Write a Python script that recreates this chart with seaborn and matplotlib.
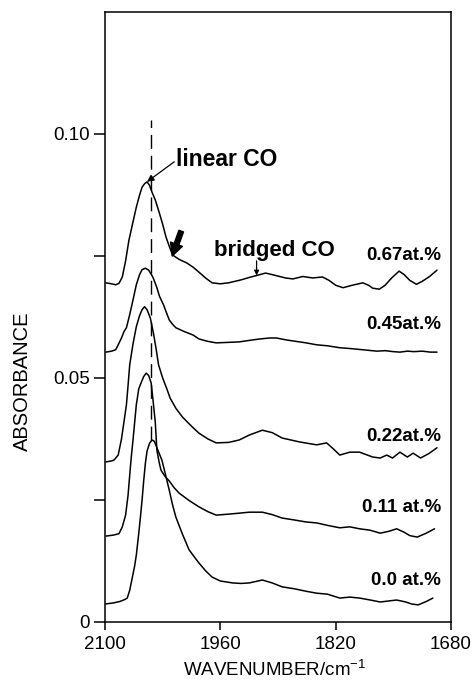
import matplotlib
matplotlib.use("Agg")
import matplotlib.pyplot as plt
import pandas as pd
import seaborn as sns

# IR spectra of adsorbed CO for several dopant loadings (absorbance vs wavenumber)
sample_labels = ["0.67at.%", "0.45at.%", "0.22at.%", "0.11 at.%", "0.0 at.%"]

wn_067 = [2099, 2092, 2087, 2083, 2079, 2075, 2071, 2066, 2062, 2058, 2055, 2052, 2049,
          2046, 2043, 2039, 2034, 2030, 2026, 2022, 2018, 2010, 2001, 1993, 1986, 1978,
          1970, 1960, 1950, 1945, 1935, 1925, 1916, 1905, 1895, 1881, 1872, 1860, 1848,
          1836, 1828, 1820, 1811, 1800, 1787, 1780, 1775, 1767, 1760, 1752, 1743, 1737,
          1730, 1722, 1715, 1706, 1697]
ab_067 = [0.0695, 0.0693, 0.0691, 0.0694, 0.0707, 0.0740, 0.0782, 0.0820, 0.0850, 0.0875,
          0.0891, 0.0898, 0.0902, 0.0895, 0.0881, 0.0865, 0.0838, 0.0815, 0.0789, 0.0770,
          0.0752, 0.0743, 0.0736, 0.0727, 0.0717, 0.0705, 0.0695, 0.0693, 0.0695, 0.0697,
          0.0701, 0.0706, 0.0710, 0.0715, 0.0711, 0.0705, 0.0703, 0.0708, 0.0705, 0.0707,
          0.0700, 0.0690, 0.0685, 0.0690, 0.0695, 0.0690, 0.0684, 0.0682, 0.0690, 0.0705,
          0.0719, 0.0712, 0.0700, 0.0692, 0.0698, 0.0708, 0.0721]

wn_045 = [2099, 2092, 2087, 2084, 2080, 2077, 2074, 2070, 2066, 2062, 2058, 2055, 2051,
          2047, 2043, 2041, 2037, 2034, 2029, 2025, 2022, 2018, 2014, 2005, 1993, 1986,
          1975, 1965, 1950, 1937, 1925, 1912, 1900, 1892, 1880, 1868, 1856, 1843, 1830,
          1815, 1800, 1782, 1770, 1760, 1750, 1742, 1733, 1725, 1715, 1705, 1697]
ab_045 = [0.0553, 0.0555, 0.0558, 0.0568, 0.0582, 0.0595, 0.0603, 0.0630, 0.0660, 0.0691,
          0.0712, 0.0722, 0.0725, 0.0721, 0.0710, 0.0703, 0.0685, 0.0668, 0.0650, 0.0632,
          0.0619, 0.0610, 0.0603, 0.0596, 0.0588, 0.0580, 0.0575, 0.0572, 0.0573, 0.0574,
          0.0577, 0.0580, 0.0582, 0.0582, 0.0578, 0.0575, 0.0572, 0.0568, 0.0566, 0.0562,
          0.0560, 0.0557, 0.0555, 0.0556, 0.0554, 0.0553, 0.0555, 0.0554, 0.0555, 0.0553,
          0.0553]

wn_022 = [2099, 2092, 2089, 2084, 2080, 2077, 2074, 2072, 2070, 2066, 2062, 2058, 2055,
          2052, 2049, 2045, 2041, 2038, 2035, 2030, 2025, 2021, 2014, 2006, 1999, 1993,
          1986, 1975, 1965, 1950, 1937, 1925, 1909, 1897, 1885, 1864, 1843, 1831, 1823,
          1815, 1803, 1791, 1775, 1766, 1758, 1751, 1742, 1733, 1726, 1717, 1707, 1697]
ab_022 = [0.0328, 0.0330, 0.0332, 0.0342, 0.0375, 0.0410, 0.0445, 0.0485, 0.0527, 0.0570,
          0.0605, 0.0628, 0.0640, 0.0646, 0.0640, 0.0623, 0.0590, 0.0560, 0.0527, 0.0500,
          0.0478, 0.0459, 0.0438, 0.0420, 0.0408, 0.0398, 0.0387, 0.0375, 0.0367, 0.0368,
          0.0373, 0.0383, 0.0393, 0.0388, 0.0377, 0.0369, 0.0363, 0.0367, 0.0355, 0.0342,
          0.0348, 0.0348, 0.0338, 0.0336, 0.0342, 0.0336, 0.0348, 0.0338, 0.0346, 0.0336,
          0.0345, 0.0357]

wn_011 = [2099, 2090, 2083, 2079, 2075, 2072, 2070, 2068, 2066, 2062, 2059, 2056, 2053,
          2050, 2047, 2044, 2042, 2039, 2037, 2034, 2032, 2027, 2022, 2016, 2010, 1998,
          1986, 1975, 1965, 1950, 1937, 1925, 1909, 1897, 1885, 1870, 1856, 1843, 1830,
          1815, 1803, 1791, 1778, 1766, 1755, 1746, 1737, 1730, 1721, 1710, 1700]
ab_011 = [0.0176, 0.0178, 0.0181, 0.0195, 0.0219, 0.0260, 0.0301, 0.0340, 0.0373, 0.0445,
          0.0478, 0.0491, 0.0503, 0.0510, 0.0505, 0.0490, 0.0459, 0.0410, 0.0352, 0.0325,
          0.0311, 0.0298, 0.0289, 0.0275, 0.0264, 0.0249, 0.0236, 0.0226, 0.0219, 0.0221,
          0.0223, 0.0225, 0.0225, 0.0220, 0.0213, 0.0209, 0.0205, 0.0203, 0.0198, 0.0193,
          0.0195, 0.0191, 0.0188, 0.0182, 0.0186, 0.0191, 0.0184, 0.0177, 0.0174, 0.0182,
          0.0191]

wn_000 = [2099, 2090, 2082, 2076, 2073, 2070, 2067, 2064, 2062, 2059, 2057, 2055, 2053,
          2051, 2049, 2046, 2043, 2040, 2037, 2031, 2027, 2022, 2018, 2014, 2006, 1998,
          1991, 1986, 1978, 1970, 1960, 1945, 1935, 1925, 1909, 1897, 1885, 1870, 1856,
          1843, 1830, 1815, 1803, 1791, 1778, 1766, 1756, 1746, 1735, 1728, 1720, 1710,
          1702]
ab_000 = [0.0037, 0.0039, 0.0042, 0.0046, 0.0049, 0.0065, 0.0090, 0.0115, 0.0137, 0.0182,
          0.0215, 0.0250, 0.0290, 0.0325, 0.0350, 0.0366, 0.0373, 0.0370, 0.0357, 0.0332,
          0.0305, 0.0270, 0.0240, 0.0215, 0.0180, 0.0148, 0.0132, 0.0121, 0.0105, 0.0092,
          0.0084, 0.0080, 0.0079, 0.0080, 0.0086, 0.0080, 0.0072, 0.0068, 0.0063, 0.0059,
          0.0057, 0.0049, 0.0051, 0.0049, 0.0045, 0.0041, 0.0043, 0.0045, 0.0041, 0.0037,
          0.0035, 0.0042, 0.0049]

# label anchor heights (absorbance) for each spectrum, right aligned near 1693 cm-1
label_y = [0.0752, 0.0609, 0.0381, 0.0234, 0.0084]

x_ticks = [2100, 1960, 1820, 1680]
y_ticks = [0, 0.025, 0.05, 0.075, 0.10]
y_tick_labels = ["0", "", "0.05", "", "0.10"]

sns.set_style("ticks")
plt.rcParams["font.family"] = ["Liberation Sans", "DejaVu Sans"]
plt.rcParams["mathtext.fontset"] = "custom"
plt.rcParams["mathtext.rm"] = "Liberation Sans"
plt.rcParams["mathtext.it"] = "Liberation Sans:italic"
plt.rcParams["mathtext.bf"] = "Liberation Sans:bold"
for key in ("text.color", "axes.labelcolor", "xtick.color", "ytick.color",
            "axes.edgecolor"):
    plt.rcParams[key] = "black"

frames = []
for lab, wn, ab in zip(sample_labels,
                       [wn_067, wn_045, wn_022, wn_011, wn_000],
                       [ab_067, ab_045, ab_022, ab_011, ab_000]):
    frames.append(pd.DataFrame({"wavenumber": wn, "absorbance": ab, "sample": lab}))
df = pd.concat(frames, ignore_index=True)

fig = plt.figure(figsize=(4.73, 6.82), dpi=100)
ax = fig.add_axes([0.222, 0.088, 0.7315, 0.8944])

sns.lineplot(data=df, x="wavenumber", y="absorbance", hue="sample",
             palette=["black"] * len(sample_labels), estimator=None, sort=False,
             legend=False, linewidth=1.1, ax=ax)

ax.set_xlim(2100, 1680)
ax.set_ylim(0, 0.125)
ax.set_xticks(x_ticks)
ax.set_xticklabels([str(t) for t in x_ticks])
ax.set_yticks(y_ticks)
ax.set_yticklabels(y_tick_labels)

for sp in ax.spines.values():
    sp.set_visible(True)
    sp.set_linewidth(1.1)
    sp.set_color("black")

ax.tick_params(axis="y", direction="out", length=8, width=1.1, labelsize=13.5, pad=3,
               colors="black")
ax.tick_params(axis="x", direction="out", length=6, width=1.1, labelsize=13.5, pad=4,
               colors="black")

ax.set_ylabel("ABSORBANCE", fontsize=14.5, color="black")
ax.yaxis.set_label_coords(-0.21, 0.395)
ax.set_xlabel("WAVENUMBER/cm$^{\\mathregular{-1}}$", fontsize=13.5, color="black")
ax.xaxis.set_label_coords(0.49, -0.062)

# dashed marker through the linear CO band maximum
ax.plot([2044, 2044], [0.0373, 0.1029], color="black", lw=1.0, ls=(0, (10, 5)))

# band assignments
ax.text(2013.6, 0.0947, "linear CO", fontsize=16.5, fontweight="bold",
        ha="left", va="center", color="black")
ax.annotate("", xy=(2049, 0.0902), xytext=(2016, 0.0943),
            arrowprops=dict(arrowstyle="-|>", color="black", lw=0.9,
                            mutation_scale=10, shrinkA=0, shrinkB=0))
ax.annotate("", xy=(2018.4, 0.0750), xytext=(2007.5, 0.0801),
            arrowprops=dict(arrowstyle="simple,head_width=0.9,head_length=0.9,tail_width=0.35",
                            fc="black", ec="black", mutation_scale=10,
                            shrinkA=0, shrinkB=0))
ax.text(1967.3, 0.0762, "bridged CO", fontsize=16, fontweight="bold",
        ha="left", va="center", color="black")
ax.annotate("", xy=(1916, 0.0710), xytext=(1916, 0.0740),
            arrowprops=dict(arrowstyle="-|>", color="black", lw=0.9,
                            mutation_scale=7, shrinkA=0, shrinkB=0))

for lab, y in zip(sample_labels, label_y):
    ax.text(1692, y, lab, fontsize=13.5, fontweight="bold", ha="right", va="center",
            color="black")

fig.savefig("out.png", dpi=100)
